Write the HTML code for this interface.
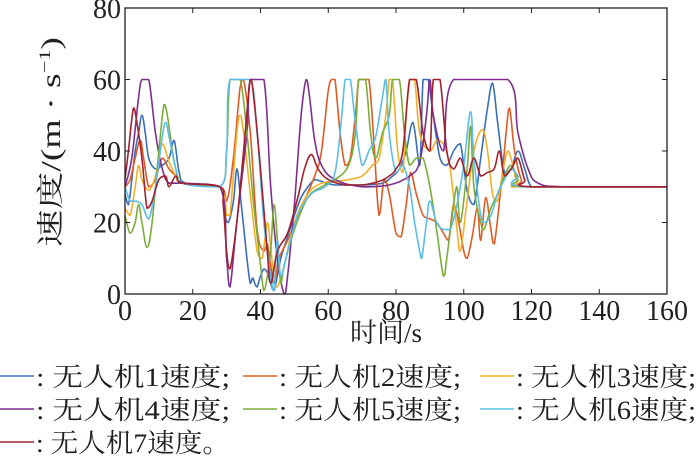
<!DOCTYPE html>
<html><head><meta charset="utf-8"><style>
body{margin:0;background:#fff;width:700px;height:461px;overflow:hidden}
svg text{font-family:"Liberation Serif","Noto Serif CJK SC",serif;fill:#231f20}
</style></head><body>
<svg id="chart" width="700" height="461" viewBox="0 0 700 461" xmlns="http://www.w3.org/2000/svg">
<g id="plot"></g>
<g id="axes"></g>
<text transform="translate(60,142) rotate(-90)" text-anchor="middle" font-size="27" textLength="210" lengthAdjust="spacingAndGlyphs">速度/(m · s<tspan font-size="16" dy="-10">−1</tspan><tspan dy="10">)</tspan></text>
<text x="386" y="342" text-anchor="middle" font-size="27">时间/s</text>
<g id="legend"></g>
</svg>
<script>
const xTicks=[0,20,40,60,80,100,120,140,160];
const yTicks=[0,20,40,60,80];
const seriesNames=["无人机1速度;","无人机2速度;","无人机3速度;","无人机4速度;","无人机5速度;","无人机6速度;","无人机7速度。"];
const s1=[[0,28],[1,25],[2,32],[3,40],[4,45],[5,50],[6,45],[7,38],[9,35],[11,36],[13,38],[14.5,43],[16,34],[18,31],[28,30],[29.5,22],[30.5,20],[32,26],[33,35],[34,28],[36,10],[37,3],[37.7,4.5],[38.3,3],[39,2],[40,5],[41,7],[42,6],[43,3],[44,1],[46,10],[48,16],[50,22],[52,27],[54,30],[56,32],[58,31.5],[62,30.5],[70,30.5],[76,31],[79,33],[81,35],[83,40],[85,48],[87,36],[88,60],[89.5,60],[91,50],[93,38],[95,36],[97,40],[99,42],[101,29],[103,25],[105,38],[107,52],[108.5,59],[110,48],[112,34],[114,35],[116,40],[118,35],[120,30],[124,30],[160,30]];
const s2=[[0,30],[1.5,32],[3,38],[4.5,43],[5.5,38],[7,30],[9,32],[11,38],[13,35],[15,33],[17,31],[28,30],[30,26],[32,38],[34,58],[35,60],[37,45],[39,18],[41,12],[42,14],[43,8],[44,3],[45.5,10],[48,15],[52,24],[56,33],[58,40],[60,57],[61,60],[62,60],[63.5,45],[65,36],[66.5,38],[68,50],[69,60],[70,60],[72,60],[73.5,42],[75,22],[76.5,32],[78,28],[80,17],[81.5,16],[83,25],[84.3,34],[86,28],[88,22],[90,21],[92,20],[94,17],[95.5,15],[97,25],[98.5,20],[100,12],[101,10],[102.5,16],[104,24],[105,15],[106.5,27],[108,18],[109,14],[111,30],[112.5,45],[113.5,52],[115,40],[117,32],[119,30],[160,30]];
const s3=[[0,24],[1.5,22],[3,30],[4,36],[5,32],[7,29],[9,33],[11,42],[13,37],[15,33],[17,31],[28,30],[30,22],[31,22],[33,45],[34,50],[35,45],[37,28],[39,12],[40.5,10],[42,20],[43,13],[44,4],[45,2],[47,8],[50,20],[54,28],[58,31],[62,31.5],[66,32],[70,33],[73,36],[75,38],[77,50],[78,60],[79,60],[80.5,40],[82,34],[83,50],[84,60],[85.5,60],[87,45],[90,40],[92,43],[94,42],[96,35],[98,18],[99,12],[101,26],[103,40],[105.5,46],[107,40],[108.5,28],[110,26],[111.5,34],[113,40],[114.5,36],[116,30],[118,30],[160,30]];
const s4=[[0,30],[2,38],[4,55],[5,60],[7,60],[9,45],[11,35],[13,31],[17,31],[28,30],[30,10],[31,2],[33,20],[36,45],[37,60],[41,60],[43,30],[45,10],[47,0],[48,5],[50,25],[52,50],[53.5,60],[54.5,55],[56,43],[58,36],[62,32],[70,30],[78,30.5],[84,33],[87,37],[89,50],[90,60],[91,50],[94,40],[97,60],[113,60],[116,45],[119,35],[122,31],[130,30],[160,30]];
const s5=[[0,22],[1.5,17],[3,20],[4,25],[5,20],[6.5,13],[8,20],[10,40],[11.5,53],[12.5,50],[14,40],[15.5,33],[17,31],[28,30],[30,40],[31,60],[34,60],[36,45],[38,25],[40,8],[41,1],[42,5],[43,12],[44,25],[45,15],[46,3],[47,8],[50,18],[54,27],[58,30],[62,32],[66,36],[68,45],[69,60],[71,60],[72.5,45],[74,38],[76,45],[78,50],[79,60],[81,60],[82.5,45],[84,36],[86,38],[88,38],[90,30],[92,18],[94,5],[95,10],[97,25],[98,30],[99,20],[101,35],[102,47],[103,30],[105,20],[106,18],[108,24],[110,28],[112,33],[114,36],[116,32],[118,30],[160,30]];
const s6=[[0,30],[1.5,26],[3,26],[5,25],[7,21],[9,30],[11,44],[12,48],[13,44],[15,35],[17,31],[28,30],[30,40],[31,60],[37,60],[39,45],[41,20],[43,5],[44,1],[45,15],[46,5],[48,12],[51,22],[55,28],[59,30],[62,34],[64,50],[65,60],[66.5,60],[68,48],[70,36],[72,40],[74,44],[76,55],[77,60],[78,45],[80,34],[82,36],[84,30],[85.5,20],[87,12],[87.6,10],[89,20],[90,26],[92,20],[94,18],[96,18],[98,25],[100,36],[102,51],[103,38],[105,22],[106,20],[108,22],[110,28],[112,32],[114,35],[116,33],[118,30],[160,30]];
const s7=[[0,32],[1,40],[2.5,52],[3.5,48],[5,38],[6.5,24],[8,26],[10,32],[12,33],[13,30],[15,33],[17,31],[28,30],[29,25],[30,12],[31,7],[33,20],[35,40],[37,60],[38,55],[40,35],[42,12],[43,3],[45,12],[48,17],[51,27],[53,35],[55,39],[57,35],[60,32],[65,30.5],[70,30.5],[75,31.5],[78,33],[80,35],[82,40],[84,60],[86,60],[88,45],[90,40],[91,60],[93,60],[95,40],[97,35],[99,38],[101,33],[103,38],[105,33],[107,34],[109,35],[110.5,40],[112,33],[114,35],[116,38],[118,32],[120,30],[160,30]];
const allSeries=[s1,s2,s3,s4,s5,s6,s7];
const colors=["#3a6fb8","#e05a24","#f2b02a","#7e2f8e","#7bad3a","#5cbde9","#a2202f"];
const L=125,R=667,T=8,B=294;
const xs=t=>L+(t-0)/160*(R-L);
const ys=v=>B-(v-0)/80*(B-T);
const NS="http://www.w3.org/2000/svg";
function mk(tag,attrs,parent){const e=document.createElementNS(NS,tag);for(const k in attrs)e.setAttribute(k,attrs[k]);parent.appendChild(e);return e;}
function smoothPath(pts){
  let d='M'+pts[0][0].toFixed(1)+','+pts[0][1].toFixed(1);
  for(let i=0;i<pts.length-1;i++){
    const p0=pts[Math.max(0,i-1)],p1=pts[i],p2=pts[i+1],p3=pts[Math.min(pts.length-1,i+2)];
    const k=0.18;
    let c1y=p1[1]+(p2[1]-p0[1])*k,c2y=p2[1]-(p3[1]-p1[1])*k;
    const lo=Math.min(p1[1],p2[1]),hi=Math.max(p1[1],p2[1]);
    c1y=Math.min(Math.max(c1y,lo),hi);c2y=Math.min(Math.max(c2y,lo),hi);
    const c1x=p1[0]+(p2[0]-p0[0])*k,c2x=p2[0]-(p3[0]-p1[0])*k;
    d+=' C'+c1x.toFixed(1)+','+c1y.toFixed(1)+' '+c2x.toFixed(1)+','+c2y.toFixed(1)+' '+p2[0].toFixed(1)+','+p2[1].toFixed(1);
  }
  return d;
}
const plot=document.getElementById('plot'),axes=document.getElementById('axes'),legend=document.getElementById('legend');
allSeries.forEach((s,i)=>{
  const p=mk('path',{d:smoothPath(s.map(d=>[xs(d[0]),ys(d[1])])),fill:'none',stroke:colors[i],'stroke-width':1.6,'stroke-linejoin':'round'},plot);
  
  
});
const box=mk('rect',{x:L,y:T,width:R-L,height:B-T,fill:'none',stroke:'#231f20','stroke-width':1.3},axes);


xTicks.forEach(t=>{
  mk('line',{x1:xs(t),x2:xs(t),y1:B,y2:B-5,stroke:'#231f20'},axes);
  mk('line',{x1:xs(t),x2:xs(t),y1:T,y2:T+5,stroke:'#231f20'},axes);
  const tx=mk('text',{x:xs(t),y:B+26,'text-anchor':'middle','font-size':28},axes);
  tx.textContent=t;
  
  
});
yTicks.forEach(v=>{
  mk('line',{x1:L,x2:L+5,y1:ys(v),y2:ys(v),stroke:'#231f20'},axes);
  mk('line',{x1:R,x2:R-5,y1:ys(v),y2:ys(v),stroke:'#231f20'},axes);
  const tx=mk('text',{x:L-4,y:ys(v)+10,'text-anchor':'end','font-size':28},axes);
  tx.textContent=v;
  
  
});
const colX=[0,243,480],rowY=[386,419,452],colLen=[194,182,180];
seriesNames.forEach((n,i)=>{
  const x=colX[i%3],y=rowY[Math.floor(i/3)];
  const g=mk('g',{},legend);
  
  
  mk('line',{x1:x,x2:x+34,y1:y-10,y2:y-10,stroke:colors[i],'stroke-width':1.5},g);
  const tx=mk('text',{x:x+36,y:y,'font-size':26,textLength:colLen[i%3],lengthAdjust:'spacingAndGlyphs'},g);
  tx.textContent=': '+n;
});
</script>
</body></html>
